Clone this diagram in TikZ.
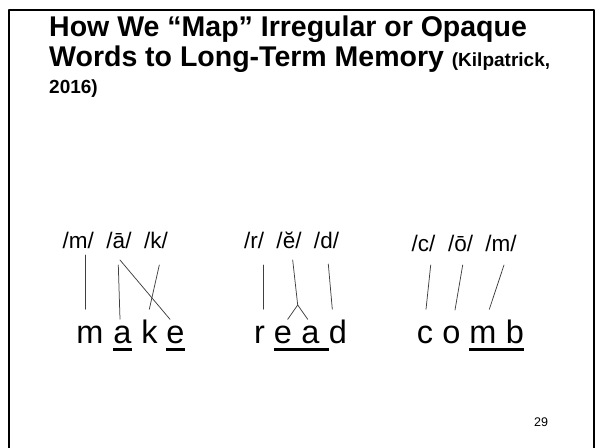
\documentclass[tikz,border=0pt]{standalone}
\usepackage{fontspec}
\setmainfont{Liberation Sans}
\begin{document}
\begin{tikzpicture}[x=1pt,y=-1pt,line cap=round,line join=round]
\useasboundingbox (0,0) rectangle (596,447);
\tikzset{phon/.style={anchor=base,inner sep=0,font=\fontsize{22.5}{27}\selectfont},
	letter/.style={anchor=base,inner sep=0,font=\fontsize{32.5}{39}\selectfont},
	headline/.style={anchor=base west,inner sep=0,font=\bfseries\fontsize{28.5}{34}\selectfont},
	tie/.style={draw=black!75,line width=0.75pt},
	uline/.style={line width=2.3pt,line cap=butt}}
\draw[line width=2pt,line cap=butt] (8.5,460) -- (8.5,10) -- (594,10) -- (594,460);
% title
\node[headline] (head1) at (49,36.5) {How We “Map” Irregular or Opaque};
\node[headline] (head2) at (49,66) {Words to Long-Term Memory {\fontsize{19}{23}\selectfont(Kilpatrick,}};
\node[headline,font=\bfseries\fontsize{19}{23}\selectfont] (head3) at (49,93) {2016)};
% sounds and spellings
\foreach \t/\x/\y/\n in {m/78.3/248/pm1, ā/119/248/pa1, k/155.9/248/pk1, r/254/248/pr2, ĕ/289/248/pe2, d/326.5/248/pd2, c/423.6/251.5/pc3, ō/460.5/251.5/po3, m/501.1/251.5/pm3}{\node[phon] (\n) at (\x,\y) {/\t/};}
\foreach \t/\x/\n in {m/90/lm1, a/122.5/la1, k/149.5/lk1, e/175.5/le1, r/259.5/lr2, e/283/le2, a/310.5/la2, d/338/ld2, c/425/lc3, o/451.5/lo3, m/483/lm3, b/515/lb3}{\node[letter] (\n) at (\x,343) {\t};}
\draw[uline] ([yshift=-6.5pt]la1.base west) -- ([yshift=-6.5pt]la1.base east);
\draw[uline] ([yshift=-6.5pt]le1.base west) -- ([yshift=-6.5pt]le1.base east);
\draw[uline] ([yshift=-6.5pt]le2.base west) -- ([yshift=-6.5pt]ld2.base west);
\draw[uline] ([yshift=-6.5pt]lm3.base west) -- ([yshift=-6.5pt]lb3.base east);
% make
\draw[tie] ([shift={(7,7)}]pm1.base) -- ([shift={(-4.7,-33.7)}]lm1.base);
\draw[tie] ([shift={(-0.7,17)}]pa1.base) -- ([shift={(-2.5,-23.7)}]la1.base);
\draw[tie] ([shift={(1,12)}]pa1.base) -- ([shift={(-5.5,-23.7)}]le1.base);
\draw[tie] ([shift={(3.4,17)}]pk1.base) -- ([shift={(-0.2,-33.7)}]lk1.base);
% read
\coordinate (fork) at (297.7,305);
\draw[tie] ([shift={(9.3,17)}]pr2.base) -- ([shift={(3.8,-33.7)}]lr2.base);
\draw[tie] ([shift={(3.7,12)}]pe2.base) -- (fork) -- ([shift={(4.7,-23.7)}]le2.base);
\draw[tie] (fork) -- ([shift={(-2.8,-23.7)}]la2.base);
\draw[tie] ([shift={(1.8,16)}]pd2.base) -- ([shift={(-5.7,-33.7)}]ld2.base);
% comb
\draw[tie] ([shift={(7.1,13.5)}]pc3.base) -- ([shift={(1,-33.7)}]lc3.base);
\draw[tie] ([shift={(2.2,13.5)}]po3.base) -- ([shift={(3.5,-33)}]lo3.base);
\draw[tie] ([shift={(2.9,13.5)}]pm3.base) -- ([shift={(6.3,-33.7)}]lm3.base);
\node[inner sep=0,font=\fontsize{12.5}{15}\selectfont] (pnum) at (541,422.5) {29};
\end{tikzpicture}
\end{document}
